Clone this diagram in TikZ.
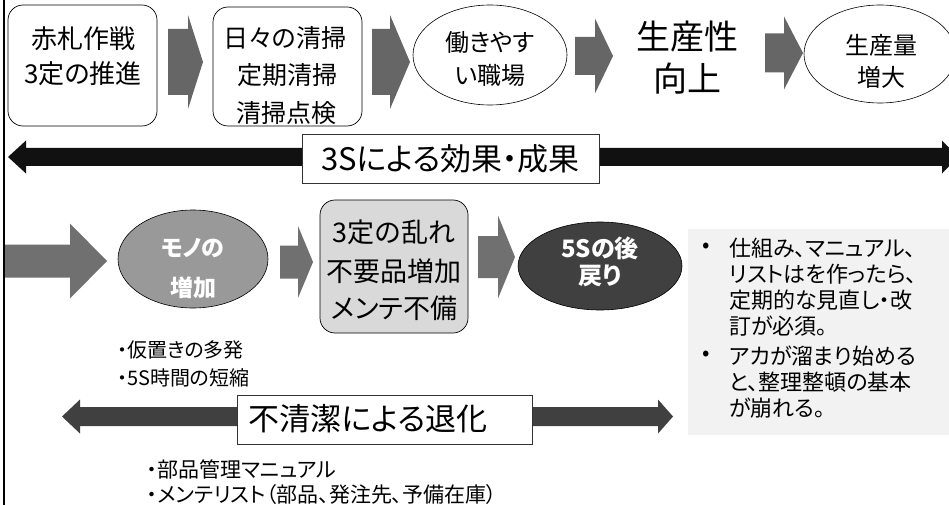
\documentclass[tikz,border=0pt]{standalone}
\usepackage{fontspec}
\setmainfont{Noto Sans CJK JP}[RawFeature=+palt]
\usetikzlibrary{shapes.geometric}
\definecolor{arrgray}{HTML}{666666}
\definecolor{arrgrayb}{HTML}{707070}
\definecolor{ellgray}{HTML}{999999}
\definecolor{boxgray}{HTML}{D9D9D9}
\definecolor{darkell}{HTML}{404040}
\definecolor{panelgray}{HTML}{F2F2F2}
\definecolor{blackarr}{HTML}{111111}
\definecolor{lowarr}{HTML}{404040}
% #1 style, #2 x start, #3 x head base, #4 x tip, #5 y centre, #6 shaft half, #7 head half
\newcommand\myblockarrow[7][]{%
  \fill[#1] (#2,{#5-#6}) -- (#3,{#5-#6}) -- (#3,{#5-#7}) -- (#4,#5) -- (#3,{#5+#7}) -- (#3,{#5+#6}) -- (#2,{#5+#6}) -- cycle;}
% #1 style, #2 left tip, #3 left base, #4 right base, #5 right tip, #6 y centre, #7 shaft half, #8 head half
\newcommand\mydoublearrow[8][]{%
  \fill[#1] (#2,#6) -- (#3,{#6-#8}) -- (#3,{#6-#7}) -- (#4,{#6-#7}) -- (#4,{#6-#8}) -- (#5,#6) -- (#4,{#6+#8}) -- (#4,{#6+#7}) -- (#3,{#6+#7}) -- (#3,{#6+#8}) -- cycle;}
\tikzset{
  rbox/.style={draw=black, line width=0.7pt, rounded corners=15pt, inner sep=0pt},
  ell/.style={ellipse, draw=black, line width=0.6pt, inner sep=0pt},
  lblbox/.style={draw=black!80, fill=white, line width=0.8pt, inner sep=0pt},
  txt/.style={inner sep=0pt, anchor=center},
  ltxt/.style={inner sep=0pt, anchor=west},
}
\begin{document}
\begin{tikzpicture}[x=1pt,y=-1pt]
\useasboundingbox (0,0) rectangle (949,505);
\clip (0,0) rectangle (949,505);
\fill[white] (0,0) rectangle (949,505);
% left border
\draw[line width=2pt] (4,0) -- (4,505);

% ---------- top row ----------
\node[rbox, minimum width=149pt, minimum height=121pt] (b1) at (82.5,65.5) {};
\node[txt, font=\fontsize{26}{30}\selectfont] (b1a) at (83,39) {赤札作戦};
\node[txt, font=\fontsize{26}{30}\selectfont] (b1b) at (83,74) {3定の推進};

\myblockarrow[arrgray]{168}{188}{203}{62}{33}{47}

\begin{scope}
\clip[rounded corners=15pt] (213,7) rectangle (362,126);
\node[txt, font=\fontsize{25}{30}\selectfont] (b2a) at (285,38) {日々の清掃};
\node[txt, font=\fontsize{25}{30}\selectfont] (b2b) at (287,75) {定期清掃};
\node[txt, font=\fontsize{25}{30}\selectfont] (b2c) at (286,113) {清掃点検};
\end{scope}
\node[rbox, minimum width=149pt, minimum height=119pt] (b2) at (287.5,66.5) {};

\myblockarrow[arrgray]{372}{390}{410}{62}{33}{47}

\node[ell, minimum width=154pt, minimum height=100pt] (e1) at (490,55) {};
\node[txt, font=\fontsize{24}{30}\selectfont] (e1a) at (490,42) {働きやす};
\node[txt, font=\fontsize{24}{30}\selectfont] (e1b) at (490,75) {い職場};

\myblockarrow[arrgray]{575}{595}{613}{56}{19}{37.5}

\node[txt, font=\fontsize{34}{40}\selectfont] (p1) at (687,37) {生産性};
\node[txt, font=\fontsize{34}{40}\selectfont] (p2) at (687,79) {向上};

\myblockarrow[arrgray]{765}{784}{803}{53}{19.5}{36.5}

\node[ell, minimum width=152pt, minimum height=98pt] (e2) at (880,54) {};
\node[txt, font=\fontsize{24}{30}\selectfont] (e2a) at (881,45) {生産量};
\node[txt, font=\fontsize{24}{30}\selectfont] (e2b) at (881,77) {増大};

% ---------- 3S double arrow ----------
\mydoublearrow[blackarr]{8}{26}{942}{958}{157}{9}{16.5}
\node[lblbox, minimum width=297pt, minimum height=49pt, font=\fontsize{31}{34}\selectfont] (l1) at (450.5,158.5) {3Sによる効果・成果};

% ---------- second row ----------
\myblockarrow[arrgrayb]{5}{70}{107}{261}{16.5}{37.5}

\node[ell, fill=ellgray, minimum width=150pt, minimum height=98pt] (e3) at (193,259) {};
\node[txt, text=white, font=\bfseries\fontsize{23}{26}\selectfont] (e3a) at (193,248) {モノの};
\node[txt, text=white, font=\bfseries\fontsize{23}{26}\selectfont] (e3b) at (193,288) {増加};

\myblockarrow[arrgrayb]{280}{298}{313}{262}{16.5}{36}

\node[rbox, fill=boxgray, minimum width=148pt, minimum height=133pt] (b3) at (394,266.5) {};
\node[txt, font=\fontsize{27}{30}\selectfont] (b3a) at (394,232) {3定の乱れ};
\node[txt, font=\fontsize{27}{30}\selectfont] (b3b) at (394,271) {不要品増加};
\node[txt, font=\fontsize{27}{30}\selectfont] (b3c) at (394,308) {メンテ不備};

\myblockarrow[arrgrayb]{478}{498}{515}{257}{21}{41.5}

\node[ell, fill=darkell, minimum width=164pt, minimum height=88pt] (e4) at (600,266) {};
\node[txt, text=white, font=\bfseries\fontsize{24}{26}\selectfont] (e4a) at (600,248) {5Sの後};
\node[txt, text=white, font=\bfseries\fontsize{24}{26}\selectfont] (e4b) at (600,276) {戻り};

% ---------- panel ----------
\node[fill=panelgray, inner sep=0pt, minimum width=261pt, minimum height=206pt] (pn) at (818.5,332) {};
\begin{scope}[font=\fontsize{22}{26}\selectfont]
\node[ltxt] (bu1) at (702,248) {•};
\node[ltxt] (t1) at (729,248) {仕組み、マニュアル、};
\node[ltxt] (t2) at (729,274) {リストはを作ったら、};
\node[ltxt] (t3) at (729,300) {定期的な見直し・改};
\node[ltxt] (t4) at (729,326) {訂が必須。};
\node[ltxt] (bu2) at (702,356) {•};
\node[ltxt] (t5) at (729,356) {アカが溜まり始める};
\node[ltxt] (t6) at (729,382) {と、整理整頓の基本};
\node[ltxt] (t7) at (729,408) {が崩れる。};
\end{scope}

% ---------- lower texts ----------
\node[ltxt, font=\fontsize{20}{22}\selectfont] (n1) at (117,350) {・仮置きの多発};
\node[ltxt, font=\fontsize{20}{22}\selectfont] (n2) at (117,378) {・5S時間の短縮};

\mydoublearrow[lowarr]{62}{80}{658}{673}{416.5}{9.5}{17}
\node[lblbox, minimum width=295pt, minimum height=49pt] (l2) at (384.5,419.5) {};
\node[txt, font=\fontsize{31}{34}\selectfont] (l2t) at (368,419) {不清潔による退化};

\node[ltxt, font=\fontsize{21}{24}\selectfont] (n3) at (147,469) {・部品管理マニュアル};
\node[ltxt, font=\fontsize{21}{24}\selectfont] (n4) at (147,495) {・メンテリスト（部品、発注先、予備在庫）};
\end{tikzpicture}
\end{document}
